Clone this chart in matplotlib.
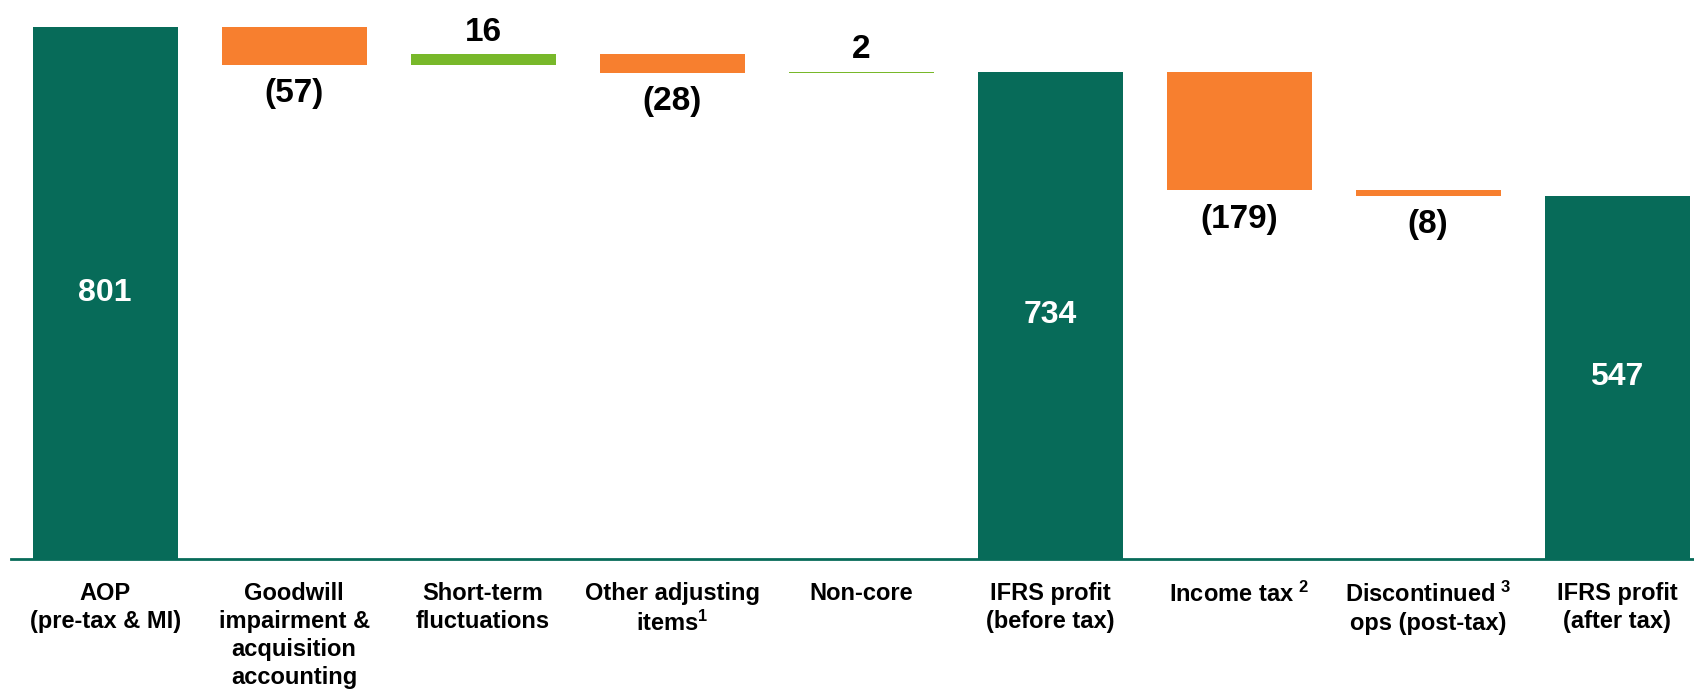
import numpy as np
import matplotlib.pyplot as plt

# waterfall: AOP -> IFRS profit
categories = ["AOP\n(pre-tax & MI)", "Goodwill\nimpairment &\nacquisition\naccounting",
              "Short-term\nfluctuations", "Other adjusting\nitems$^{1}$", "Non-core",
              "IFRS profit\n(before tax)", "Income tax$^{\\ 2}$", "Discontinued$^{\\ 3}$\nops (post-tax)",
              "IFRS profit\n(after tax)"]
values = [801, -57, 16, -28, 2, 734, -179, -8, 547]
is_total = [True, False, False, False, False, True, False, False, True]
labels = ["801", "(57)", "16", "(28)", "2", "734", "(179)", "(8)", "547"]

teal = "#076b59"
orange = "#f77f2f"
green = "#78b82a"

plt.rcParams['font.family'] = ['Liberation Sans', 'DejaVu Sans']
plt.rcParams['mathtext.fontset'] = 'custom'
plt.rcParams['mathtext.rm'] = 'Liberation Sans:bold'
plt.rcParams['mathtext.default'] = 'rm'

fig = plt.figure(figsize=(16.94, 6.89), dpi=100)
ax = fig.add_axes([0, 0.1893, 1, 0.8107])

x = np.arange(len(values))
bottoms = []
heights = []
colors = []
running = 0
for v, tot in zip(values, is_total):
    if tot:
        bottoms.append(0)
        heights.append(v)
        colors.append(teal)
        running = v
    else:
        if v < 0:
            bottoms.append(running + v)
            colors.append(orange)
        else:
            bottoms.append(running)
            colors.append(green)
        heights.append(abs(v))
        running += v

ax.bar(x, heights, bottom=bottoms, width=0.767, color=colors)

for i in range(len(values)):
    if is_total[i]:
        ax.text(x[i], heights[i] / 2, labels[i], ha='center', va='center',
                color='white', fontsize=23, fontweight='bold')
    elif values[i] < 0:
        ax.text(x[i], bottoms[i] - 20, labels[i], ha='center', va='top',
                color='black', fontsize=24, fontweight='bold')
    else:
        ax.text(x[i], bottoms[i] + heights[i] + 10, labels[i], ha='center', va='bottom',
                color='black', fontsize=24, fontweight='bold')

ax.set_xlim(-0.556, 8.407)
ax.set_ylim(0, 842)
ax.set_xticks(x)
ax.set_xticklabels(categories, fontsize=17, fontweight='bold', linespacing=1.27)
ax.tick_params(axis='x', length=0, pad=17)
ax.set_yticks([])
for s in ['top', 'right', 'left']:
    ax.spines[s].set_visible(False)
ax.spines['bottom'].set_color(teal)
ax.spines['bottom'].set_linewidth(2)
ax.spines['bottom'].set_bounds(-0.5, 8.407)

fig.savefig("out.png", dpi=100)
